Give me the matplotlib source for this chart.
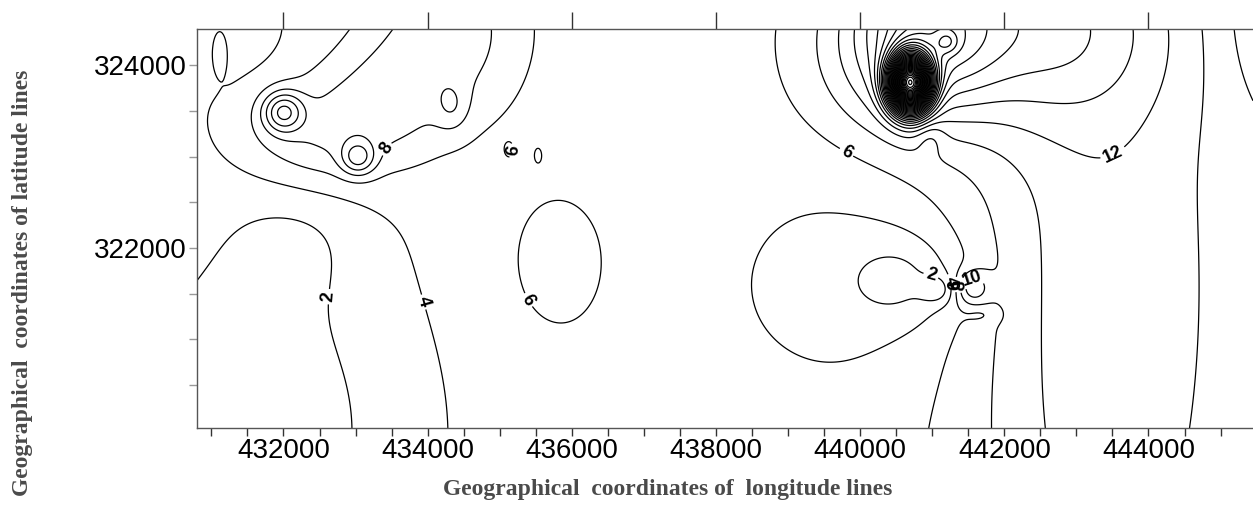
import numpy as np
import matplotlib
matplotlib.use("Agg")
import matplotlib.pyplot as plt
from matplotlib.ticker import MultipleLocator, NullFormatter

# field model: background level plus anomalies
base_level = 5.0
bump_x = [431993, 433034, 434309, 433408, 432437, 434338, 430148, 431743,
          432229, 435794, 439859, 440622, 441080, 441552, 440692, 440415,
          440969, 442079, 443327, 447488, 446102, 431119, 441205, 440969,
          441690, 435128, 435531, 436044, 431466]
bump_y = [323487, 322985, 324382, 323672, 323236, 323541, 322854, 319906,
          322199, 321828, 321598, 321653, 321544, 321566, 323803, 324055,
          324437, 324437, 321434, 321980, 324491, 324142, 324251, 323214,
          321271, 323072, 323017, 323651, 324273]
bump_amp = [8.0, 6.0, 4.2, 3.0, 4.0, 2.5, -1.3, -3.8,
            -1.5, 1.6, -2.0, -2.8, -3.0, 5.0, 70.0, 3.0,
            9.0, 8.0, 5.5, 3.0, -3.0, 1.8, 4.0, -2.0,
            -1.5, 0.8, 0.8, 0.8, -0.8]
bump_sx = [194, 166, 694, 624, 763, 166, 1803, 1526,
           694, 666, 1179, 527, 166, 166, 194, 832,
           624, 1387, 1318, 2775, 694, 69, 111, 139,
           166, 69, 55, 111, 485]
bump_sy = [153, 131, 655, 491, 437, 186, 2729, 1638,
           546, 742, 819, 328, 109, 131, 207, 655,
           600, 764, 4367, 6550, 655, 153, 87, 131,
           66, 87, 87, 66, 382]

levels = np.arange(2, 90, 2)
labelled = [2, 4, 6, 8, 10, 12]

# label positions: (level, x, y)
label_lev = [2, 4, 6, 8, 6, 6, 2, 4, 6, 8, 10, 12]
label_x = [433172, 434060, 435281, 433450, 435323, 439790, 440941, 441177, 441246, 441316, 441524, 443494]
label_y = [321434, 321434, 321380, 323072, 323050, 323017, 321576, 321620, 321600, 321600, 321740, 323050]

xlim = (430800, 445450)
ylim = (320030, 324395)

gx = np.linspace(xlim[0], xlim[1], 800)
gy = np.linspace(ylim[0], ylim[1], 320)
X, Y = np.meshgrid(gx, gy)
Z = np.full_like(X, base_level)
for bx, by, a, sx, sy in zip(bump_x, bump_y, bump_amp, bump_sx, bump_sy):
    Z += a * np.exp(-0.5 * (((X - bx) / sx) ** 2 + ((Y - by) / sy) ** 2))

fig = plt.figure(figsize=(12.53, 5.2), dpi=100)
ax = fig.add_axes([197 / 1253, 92 / 520, 1056 / 1253, 399 / 520])

rest = [l for l in levels if l not in labelled]
ax.contour(X, Y, Z, levels=rest, colors='black', linewidths=0.9)
for lev in labelled:
    cs = ax.contour(X, Y, Z, levels=[lev], colors='black', linewidths=0.9)
    pts = [(lx, ly) for l, lx, ly in zip(label_lev, label_x, label_y) if l == lev]
    if len(cs.allsegs[0]) == 0:
        continue
    ax.clabel(cs, manual=pts, inline=True, fmt='%d', fontsize=13, inline_spacing=2)
    for t in cs.labelTexts:
        t.set_fontweight('bold')
        t.set_family('Liberation Sans')

ax.set_xlim(*xlim)
ax.set_ylim(*ylim)

ax.spines['right'].set_visible(False)
for s in ['left', 'bottom', 'top']:
    ax.spines[s].set_color('#555555')
    ax.spines[s].set_linewidth(1.0)

ax.xaxis.set_major_locator(MultipleLocator(2000))
ax.xaxis.set_minor_locator(MultipleLocator(500))
ax.yaxis.set_major_locator(MultipleLocator(2000))
ax.yaxis.set_minor_locator(MultipleLocator(500))
ax.tick_params(axis='x', which='both', direction='out', length=5.5, width=1, color='#333333',
               bottom=True, top=False, labelsize=20, pad=2)
ax.tick_params(axis='x', which='major', top=True, length=5.5)
ax.tick_params(axis='y', which='both', direction='out', length=5.5, width=1, color='#999999',
               labelsize=20, pad=2)
# top ticks are long and point up
for tl in ax.xaxis.get_major_ticks():
    tl.tick2line.set_markersize(12)
ax.xaxis.set_minor_formatter(NullFormatter())
for lab in ax.get_xticklabels() + ax.get_yticklabels():
    lab.set_family('Liberation Sans')

fig.text(0.533, 0.058, 'Geographical  coordinates of  longitude lines', ha='center', va='center',
         family=['Liberation Serif', 'DejaVu Serif'], fontsize=17, color='#4a4a4a', fontweight='bold')
fig.text(0.018, 0.456, 'Geographical  coordinates of latitude lines', ha='center', va='center',
         rotation=90, family=['Liberation Serif', 'DejaVu Serif'], fontsize=17, color='#4a4a4a',
         fontweight='bold')

fig.savefig('out.png', dpi=100)
